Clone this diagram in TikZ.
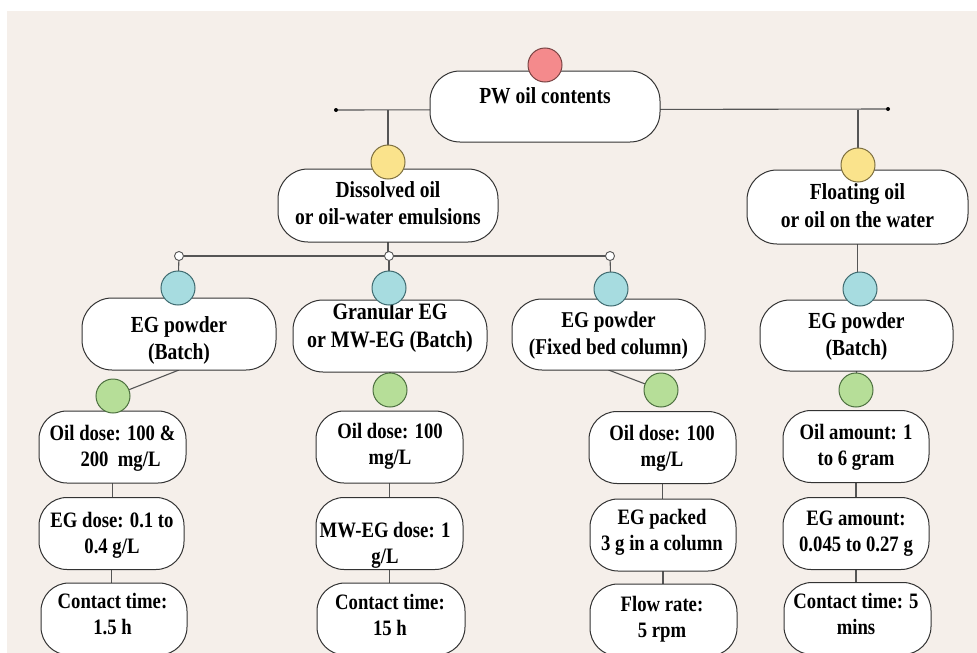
\documentclass[tikz,border=0pt]{standalone}
\usepackage{fontspec}
\setmainfont[FakeStretch=0.85]{Liberation Serif}
\usetikzlibrary{calc}
\definecolor{bgc}{HTML}{F5EFEA}
\definecolor{linec}{HTML}{555555}
\definecolor{boxc}{HTML}{333333}
\definecolor{redf}{HTML}{F48A8C}
\definecolor{redd}{HTML}{7A4444}
\definecolor{yelf}{HTML}{FAE38C}
\definecolor{yeld}{HTML}{7E7040}
\definecolor{bluf}{HTML}{A7DCE0}
\definecolor{blud}{HTML}{3F6B70}
\definecolor{grnf}{HTML}{B6DE98}
\definecolor{grnd}{HTML}{4D7040}
\pgfdeclarelayer{back}
\pgfdeclarelayer{lines}
\pgfsetlayers{back,lines,main}
\tikzset{
  conn/.style={draw=linec, line width=1.1pt},
  stad/.style={shape=rectangle, draw=boxc, fill=white, line width=1pt, rounded corners=#1, inner sep=0pt, outer sep=0pt},
  sz/.style 2 args={minimum width=#1pt, minimum height=#2pt},
  dotc/.style={circle, fill=black, minimum size=4pt, inner sep=0pt, outer sep=0pt},
  openc/.style={circle, draw=linec, fill=white, line width=0.9pt, minimum size=9pt, inner sep=0pt, outer sep=0pt},
  ball/.style 2 args={circle, fill=#1, draw=#2, line width=1pt, minimum size=34pt, inner sep=0pt, outer sep=0pt},
  tbig/.style={align=center, inner sep=0pt, font=\bfseries\fontsize{23}{27.5}\selectfont},
  tsmall/.style={align=center, inner sep=0pt, font=\bfseries\fontsize{22}{26}\selectfont},
}
\begin{document}
\begin{tikzpicture}[x=1pt,y=-1pt]
\useasboundingbox (0,0) rectangle (977,653);
\begin{pgfonlayer}{back}
  \fill[white] (0,0) rectangle (977,653);
  \fill[bgc] (7,11) rectangle (977,653);
\end{pgfonlayer}

% ---------- boxes ----------
\node[stad=30, sz={230}{71}] (pw) at (545,106.5) {};
\node[stad=30, sz={220}{73}] (dis) at (388,205.5) {};
\node[stad=30, sz={221}{74}] (flo) at (857.5,207) {};
\node[stad=30, sz={194}{72}] (bL) at (179,334) {};
\node[stad=30, sz={194}{72}] (bM) at (390,336) {};
\node[stad=30, sz={193}{71}] (bF) at (608.5,334.5) {};
\node[stad=30, sz={193}{71}] (bR) at (856.5,335.5) {};

\node[stad=28, sz={147}{72}] (r1L) at (112.5,447) {};
\node[stad=28, sz={145}{72}] (r2L) at (111.5,533.5) {};
\node[stad=28, sz={146}{72}] (r3L) at (114,619) {};
\node[stad=28, sz={147}{72}] (r1M) at (389.5,447) {};
\node[stad=28, sz={147}{72}] (r2M) at (389.5,533.5) {};
\node[stad=28, sz={148}{72}] (r3M) at (391,619) {};
\node[stad=28, sz={147}{72}] (r1F) at (662.5,447.5) {};
\node[stad=28, sz={146}{72}] (r2F) at (663,535) {};
\node[stad=28, sz={147}{72}] (r3F) at (663.5,620) {};
\node[stad=28, sz={146}{72}] (r1R) at (856,446.5) {};
\node[stad=28, sz={146}{72}] (r2R) at (856,533.5) {};
\node[stad=28, sz={147}{72}] (r3R) at (857.5,618.5) {};

% ---------- texts ----------
\node[tbig] (tpw) at (545,95.5) {PW oil contents};
\node[tbig] (tdis) at (388,203) {Dissolved oil\\or oil-water emulsions};
\node[tbig] (tflo) at (857.5,205.5) {Floating oil\\or oil on the water};
\node[tbig, font=\bfseries\fontsize{23}{27}\selectfont] (tbL) at (179,340.5) {EG powder\\(Batch)};
\node[tbig, font=\bfseries\fontsize{23.5}{28}\selectfont] (tbM) at (390,327.5) {Granular EG\\or MW-EG (Batch)};
\node[tbig, font=\bfseries\fontsize{22.6}{27}\selectfont] (tbF) at (608.5,336) {EG powder\\(Fixed bed column)};
\node[tbig, font=\bfseries\fontsize{23}{27}\selectfont] (tbR) at (856.5,336) {EG powder\\(Batch)};

\node[tsmall] (t1L) at (112.5,448.5) {Oil dose: 100 \&\\\hspace*{16pt}200~~mg/L};
\node[tsmall] (t2L) at (112,535.5) {EG dose: 0.1 to\\0.4 g/L};
\node[tsmall] (t3L) at (112.5,614.5) {Contact time:\\1.5 h};
\node[tsmall] (t1M) at (390,446.5) {Oil dose: 100\\mg/L};
\node[tsmall] (t2M) at (385,545.5) {MW-EG dose: 1\\g/L};
\node[tsmall] (t3M) at (390,614.5) {Contact time:\\15 h};
\node[tsmall] (t1F) at (662,448) {Oil dose: 100\\mg/L};
\node[tsmall] (t2F) at (662,532.5) {EG packed\\3 g in a column};
\node[tsmall] (t3F) at (662,619.5) {Flow rate:\\5 rpm};
\node[tsmall] (t1R) at (856,447.5) {Oil amount: 1\\to 6 gram};
\node[tsmall] (t2R) at (856,534) {EG amount:\\0.045 to 0.27 g};
\node[tsmall] (t3R) at (856,614) {Contact time: 5\\mins};

% ---------- circles ----------
\node[ball={redf}{redd}] (red) at (545,65) {};
\node[ball={yelf}{yeld}] (yL) at (388,162) {};
\node[ball={yelf}{yeld}] (yR) at (858,165) {};
\node[ball={bluf}{blud}] (blL) at (178,288) {};
\node[ball={bluf}{blud}] (blM) at (389,288) {};
\node[ball={bluf}{blud}] (blF) at (611,289) {};
\node[ball={bluf}{blud}] (blR) at (860,289) {};
\node[ball={grnf}{grnd}] (gL) at (113,396) {};
\node[ball={grnf}{grnd}] (gM) at (390,390) {};
\node[ball={grnf}{grnd}] (gF) at (661,390) {};
\node[ball={grnf}{grnd}] (gR) at (856,390) {};

\node[dotc] (dL) at (336,110) {};
\node[dotc] (dR) at (888,109) {};
\node[openc] (oL) at (179,256) {};
\node[openc] (oM) at (389,256) {};
\node[openc] (oF) at (610,256) {};
\coordinate (jL) at (388,110);
\coordinate (jR) at (858,109.5);

% ---------- connectors ----------
\begin{pgfonlayer}{lines}
  \draw[conn] (dL) -- (dR);
  \draw[conn] (jL) -- (yL);
  \draw[conn] (jR) -- (yR);
  \draw[conn] (dis.south) -- (dis.south |- oM.north);
  \draw[conn] (oL) -- (oF);
  \draw[conn] (oL) -- (blL);
  \draw[conn] (oM) -- (blM);
  \draw[conn] (oF) -- (blF);
  \draw[conn] (flo.south) -- (flo.south |- blR.north);
  \draw[conn] (bL.south) -- (gL);
  \draw[conn] (bF.south) -- (gF);
  \draw[conn] (bM.south) -- (gM);
  \draw[conn] (bR.south) -- (gR);
  \draw[conn] (r1L.south) -- (r1L.south |- r2L.north);
  \draw[conn] (r2L.south) -- (r2L.south |- r3L.north);
  \draw[conn] (r1M.south) -- (r1M.south |- r2M.north);
  \draw[conn] (r2M.south) -- (r2M.south |- r3M.north);
  \draw[conn] (r1F.south) -- (r1F.south |- r2F.north);
  \draw[conn] (r2F.south) -- (r2F.south |- r3F.north);
  \draw[conn] (r1R.south) -- (r1R.south |- r2R.north);
  \draw[conn] (r2R.south) -- (r2R.south |- r3R.north);
\end{pgfonlayer}
\end{tikzpicture}
\end{document}
